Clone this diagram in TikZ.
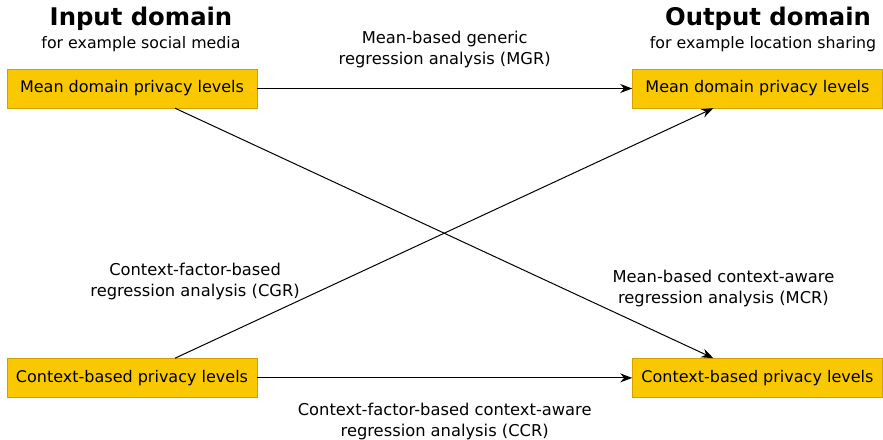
\documentclass[tikz,border=0pt]{standalone}
\usepackage{fontspec}
\setmainfont{DejaVu Sans}
\usetikzlibrary{positioning, arrows.meta}
\definecolor{boxgold}{RGB}{250,200,0}
\definecolor{boxedge}{RGB}{210,160,0}

\begin{document}
\begin{tikzpicture}[
  x=1pt, y=1pt,
  node distance=250pt and 375pt,
  level/.style={rectangle, draw=boxedge, fill=boxgold,
                minimum width=250pt, minimum height=39pt,
                inner sep=2pt, font=\fontsize{16}{18}\selectfont},
  title/.style={font=\fontsize{24.3}{28}\selectfont\bfseries, inner sep=0pt},
  subtitle/.style={font=\fontsize{15.8}{18}\selectfont, inner sep=0pt},
  lbl/.style={font=\fontsize{16.3}{21}\selectfont, align=center, inner sep=1pt},
  arr/.style={-{Stealth[length=12pt, width=9pt]}, line width=1pt}
]
  \useasboundingbox (0,0) rectangle (883,439);

  % Boxes
  \node[level] (in1) at (132,350.5) {Mean domain privacy levels};
  \node[level, right=of in1] (out1) {Mean domain privacy levels};
  \node[level, below=of in1] (in2) {Context-based privacy levels};
  \node[level, below=of out1] (out2) {Context-based privacy levels};

  % Headers
  \node[title] (inhead) at (141,420) {Input domain};
  \node[subtitle, below=5pt of inhead] (insub) {for example social media};
  \node[title] (outhead) at (768,420) {Output domain};
  \node[subtitle, below=5pt of outhead, xshift=-5pt] (outsub) {for example location sharing};

  % Arrows
  \draw[arr] (in1.east) -- node[lbl, above=19pt]
             {Mean-based generic\\regression analysis (MGR)} (out1.west);
  \draw[arr] (in2.east) -- node[lbl, below=24pt]
             {Context-factor-based context-aware\\regression analysis (CCR)} (out2.west);
  \draw[arr] ([xshift=43pt]in1.south) -- node[lbl, pos=0.81, anchor=south west, yshift=2pt]
             {Mean-based context-aware\\regression analysis (MCR)} ([xshift=-44pt]out2.north);
  \draw[arr] ([xshift=43pt]in2.north) -- node[lbl, pos=0.24, anchor=south east, xshift=-3pt, yshift=-3pt]
             {Context-factor-based\\regression analysis (CGR)} ([xshift=-44pt]out1.south);
\end{tikzpicture}
\end{document}
